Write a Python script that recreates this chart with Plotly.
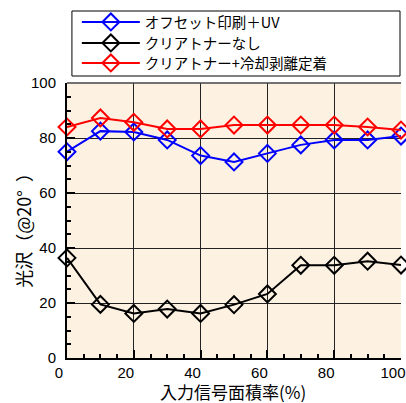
import plotly.graph_objects as go

area = [0, 10, 20, 30, 40, 50, 60, 70, 80, 90, 100]
offset_uv = [75.0, 82.5, 82.2, 79.3, 73.6, 71.3, 74.4, 77.5, 79.3, 79.3, 80.7]
no_clear = [36.4, 19.5, 16.2, 17.8, 16.2, 19.4, 23.3, 33.7, 33.7, 35.2, 33.8]
clear_cool = [84.0, 87.3, 85.7, 83.3, 83.3, 84.7, 84.7, 84.7, 84.7, 84.0, 82.9]

names = ["オフセット印刷＋UV", "クリアトナーなし", "クリアトナー+冷却剥離定着"]
colors = ["#0000FF", "#000000", "#FF0000"]
series = [offset_uv, no_clear, clear_cool]

xticks = [0, 20, 40, 60, 80, 100]
yticks = [0, 20, 40, 60, 80, 100]

NUM_FONT = "Liberation Sans, Arial, sans-serif"
JP_FONT = "Noto Sans CJK JP, sans-serif"

L, T, B = 67, 83, 45
W, H = 406, 403
pw = W - L
ph = H - T - B

def px_x(p):
    return (p - L) / pw

def px_y(p):
    return (H - B - p) / ph

legend_ids = ["legend", "legend2", "legend3"]
legend_rows = [22, 43, 63]

fig = go.Figure()
for name, col, vals, lid in zip(names, colors, series, legend_ids):
    fig.add_trace(go.Scatter(
        x=area, y=vals, name=name, mode="lines+markers",
        line=dict(color=col, width=2),
        marker=dict(symbol="diamond-open", size=13, color=col, line=dict(width=2, color=col)),
        cliponaxis=False, legend=lid,
    ))

legend_layout = {}
for lid, row in zip(legend_ids, legend_rows):
    legend_layout[lid] = dict(
        x=px_x(77), y=px_y(row), xanchor="left", yanchor="middle",
        bgcolor="rgba(0,0,0,0)", borderwidth=0,
        font=dict(family=JP_FONT, size=14.5, color="black"),
        itemwidth=58,
    )

fig.update_layout(
    width=W, height=H,
    margin=dict(l=L, r=0, t=T, b=B),
    paper_bgcolor="white",
    plot_bgcolor="#FDF2E1",
    showlegend=True,
    **legend_layout,
    xaxis=dict(
        range=[0, 100], tickvals=xticks, ticks="inside", ticklen=8, tickwidth=1.5,
        tickcolor="black", showline=True, linecolor="black", linewidth=2,
        showgrid=True, gridcolor="#222222", gridwidth=1, zeroline=False,
        minor=dict(dtick=5, ticks="inside", ticklen=4, tickcolor="black", tickwidth=1.5, showgrid=False),
        tickfont=dict(family=NUM_FONT, size=15, color="black"),
        ticklabelshift=-8, ticklabelstandoff=0, ticklabeloverflow="allow",
    ),
    yaxis=dict(
        range=[0, 100], tickvals=yticks, ticks="inside", ticklen=8, tickwidth=1.5,
        tickcolor="black", showline=True, linecolor="black", linewidth=2,
        showgrid=True, gridcolor="#222222", gridwidth=1, zeroline=False,
        minor=dict(dtick=5, ticks="inside", ticklen=4, tickcolor="black", tickwidth=1.5, showgrid=False),
        tickfont=dict(family=NUM_FONT, size=15, color="black"),
        ticklabelstandoff=6,
    ),
    shapes=[
        dict(type="rect", xref="paper", yref="paper",
             x0=px_x(72), x1=px_x(405), y0=px_y(76), y1=px_y(11),
             line=dict(color="black", width=1), fillcolor="white", layer="below"),
        dict(type="line", xref="paper", yref="paper", x0=0, x1=1, y0=1, y1=1,
             line=dict(color="#444444", width=1.5)),
    ],
    annotations=[
        dict(text="光沢（@20°  ）", xref="paper", yref="paper",
             x=px_x(22), y=px_y(226), xanchor="center", yanchor="middle",
             textangle=-90, showarrow=False,
             font=dict(family=JP_FONT, size=18, color="black")),
        dict(text="入力信号面積率(%)", xref="paper", yref="paper",
             x=px_x(235), y=px_y(391), xanchor="center", yanchor="middle",
             showarrow=False,
             font=dict(family=JP_FONT, size=17, color="black")),
    ],
)

fig.write_html("out.html", config={"displayModeBar": False},
               post_script="document.body.style.margin='0';document.body.style.overflow='hidden';")
